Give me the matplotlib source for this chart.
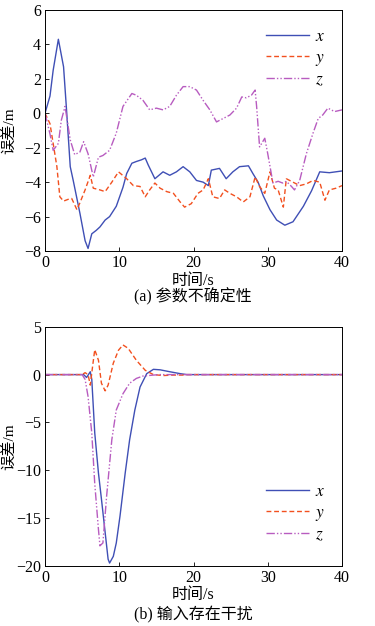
import numpy as np
import matplotlib.pyplot as plt

plt.rcParams['font.family'] = ['Liberation Serif', 'Noto Sans CJK SC']
plt.rcParams['mathtext.fontset'] = 'stix'

# (a) 参数不确定性
t_ax = [0, 0.67, 1.1, 1.8, 2.5, 2.9, 3.4, 3.8, 4.7, 5.4, 5.8, 6.3, 6.9, 7.4, 8.1, 8.7, 9.6, 10.5,
        11.0, 11.7, 12.3, 13.0, 13.5, 13.9, 14.8, 15.9, 16.8, 17.7, 18.6, 19.5, 20.4, 21.3, 22.0,
        22.4, 23.5, 24.4, 25.3, 26.2, 27.4, 28.0, 28.7, 29.4, 30.3, 31.2, 32.3, 33.4, 34.8, 35.9,
        37.0, 38.3, 40]
x_a = [0, 1.0, 2.5, 4.3, 2.7, 0.2, -3.1, -3.9, -5.8, -7.4, -7.85, -7.0, -6.8, -6.6, -6.2, -6.0,
       -5.4, -4.3, -3.5, -2.9, -2.8, -2.7, -2.6, -3.0, -3.8, -3.4, -3.6, -3.4, -3.1, -3.4, -3.9,
       -4.0, -4.2, -3.3, -3.2, -3.8, -3.4, -3.1, -3.05, -3.5, -4.0, -4.8, -5.6, -6.2, -6.5, -6.3,
       -5.4, -4.5, -3.4, -3.45, -3.35]

t_ay = [0, 0.67, 1.1, 1.6, 2.0, 2.5, 3.1, 3.6, 4.3, 4.7, 5.4, 6.1, 6.5, 7.4, 8.1, 9.0, 9.9, 11.0,
        11.9, 12.8, 13.5, 14.1, 14.8, 15.5, 16.4, 17.3, 18.2, 18.8, 19.7, 20.6, 21.3, 22.0, 22.6,
        23.5, 24.2, 24.9, 25.8, 26.7, 27.6, 28.3, 28.9, 29.6, 30.3, 30.9, 31.4, 32.1, 32.5, 33.4,
        34.3, 35.2, 36.1, 37.0, 37.7, 38.3, 39.2, 40]
y_a = [0, -0.6, -1.75, -3.1, -4.85, -5.1, -5.0, -4.95, -5.6, -5.2, -4.45, -3.6, -4.35, -4.45,
       -4.55, -4.0, -3.4, -3.8, -4.2, -4.25, -4.85, -4.45, -4.05, -4.35, -4.55, -4.65, -5.15,
       -5.45, -5.25, -4.65, -4.45, -3.8, -4.85, -4.95, -4.45, -4.65, -4.85, -5.15, -4.85, -3.7,
       -4.25, -4.65, -3.4, -4.35, -4.45, -5.45, -3.8, -4.0, -4.2, -4.1, -3.9, -4.0, -5.05, -4.45,
       -4.35, -4.2]

t_az = [0, 0.67, 1.1, 1.8, 2.2, 2.7, 3.4, 4.0, 4.7, 5.2, 5.8, 6.5, 7.2, 7.8, 8.7, 9.6, 10.5, 11.7,
        12.3, 13.2, 14.1, 15.0, 15.9, 16.8, 17.7, 18.6, 19.5, 20.4, 21.3, 22.2, 23.1, 24.0, 24.9,
        25.8, 26.5, 27.1, 27.8, 28.3, 28.5, 28.9, 29.6, 30.0, 30.7, 31.4, 32.0, 32.5, 33.2, 33.6,
        34.3, 35.2, 36.1, 36.8, 37.4, 38.1, 39.0, 40]
z_a = [0, -1.2, -2.15, -1.75, -0.4, 0.4, -1.55, -2.4, -2.25, -1.65, -2.35, -3.7, -2.55, -2.45,
       -2.15, -1.15, 0.4, 1.15, 1.05, 0.75, 0.2, 0.3, 0.2, 0.4, 1.05, 1.55, 1.55, 1.35, 0.75, 0.2,
       -0.5, -0.3, -0.1, 0.3, 0.95, 0.9, 1.05, 1.35, 0.4, -1.95, -1.45, -2.35, -4.05, -3.95, -4.05,
       -3.95, -4.25, -4.45, -3.9, -2.35, -1.15, -0.3, -0.1, 0.3, 0.1, 0.2]

# (b) 输入存在干扰
t_bx = [0, 5.0, 5.2, 5.6, 6.1, 6.3, 6.7, 7.2, 7.6, 8.1, 8.5, 8.7, 9.2, 9.6, 10.1, 10.8, 11.4,
        12.1, 12.8, 13.7, 14.6, 15.5, 16.8, 18.2, 19.1, 40]
x_b = [0, 0, 0, -0.3, 0.3, -0.5, -6.1, -10.3, -13.0, -16.5, -19.3, -19.7, -19.0, -17.6, -14.8,
       -10.3, -6.8, -3.7, -1.3, 0.1, 0.55, 0.5, 0.3, 0.1, 0, 0]

t_by = [0, 5.0, 5.4, 5.8, 6.1, 6.4, 6.7, 7.2, 7.6, 8.1, 8.5, 9.2, 9.9, 10.5, 11.2, 12.3, 13.5,
        14.6, 15.9, 17.3, 18.6, 19.0, 40]
y_b = [0, 0, 0.2, 0, -1.1, 0.8, 2.6, 1.5, -0.9, -1.7, -1.1, 1.2, 2.55, 3.1, 2.75, 1.5, 0.45, 0,
       -0.1, -0.05, -0.05, 0, 0]

t_bz = [0, 5.0, 5.4, 5.8, 6.3, 6.7, 7.2, 7.4, 7.8, 8.3, 9.0, 9.6, 10.5, 11.4, 12.3, 13.2, 14.6,
        15.5, 40]
z_b = [0, 0, -0.5, -2.3, -6.1, -11.4, -16.2, -17.9, -17.6, -12.7, -6.8, -3.7, -2.0, -0.9, -0.4,
       -0.15, -0.05, 0, 0]

c_x = '#3f4fb5'
c_y = '#f2501f'
c_z = '#b85cc0'
fs = 11.5

fig = plt.figure(figsize=(3.75, 6.26), dpi=100)
ax1 = fig.add_axes([0.12, 0.599, 0.792, 0.385])
ax2 = fig.add_axes([0.12, 0.096, 0.792, 0.382])

for ax, (tx, xs, ty, ys, tz, zs) in [(ax1, (t_ax, x_a, t_ay, y_a, t_az, z_a)),
                                      (ax2, (t_bx, x_b, t_by, y_b, t_bz, z_b))]:
    ax.plot(tx, xs, color=c_x, lw=1.0, ls='-', label=r'$x$')
    ax.plot(ty, ys, color=c_y, lw=1.0, ls=(0, (3.5, 2)), label=r'$y$')
    ax.plot(tz, zs, color=c_z, lw=1.0, ls=(0, (6, 1.5, 1, 1.5, 1, 1.5)), label=r'$z$')
    ax.set_xlim(0, 40)
    ax.set_xticks([0, 10, 20, 30, 40])
    ax.tick_params(direction='in', labelsize=fs, length=3, width=0.6, pad=3)
    for s in ax.spines.values():
        s.set_linewidth(0.7)
    ax.set_xlabel('时间/s', fontsize=fs, labelpad=1)
    ax.set_ylabel('误差/m', fontsize=fs - 0.5)
    ax.yaxis.set_label_coords(-0.098, 0.5)

ax1.set_ylim(-8, 6)
ax1.set_yticks([-8, -6, -4, -2, 0, 2, 4, 6])
ax2.set_ylim(-20, 5)
ax2.set_yticks([-20, -15, -10, -5, 0, 5])

ax1.legend(loc='upper right', bbox_to_anchor=(0.995, 0.985), frameon=False, fontsize=fs + 1,
           handlelength=2.5, handletextpad=0.3, labelspacing=0.25)
ax2.legend(loc='lower right', bbox_to_anchor=(0.995, 0.03), frameon=False, fontsize=fs + 1,
           handlelength=2.5, handletextpad=0.3, labelspacing=0.25)

fig.text(0.515, 1 - 297 / 626, '(a) 参数不确定性', ha='center', va='center', fontsize=fs)
fig.text(0.515, 1 - 615 / 626, '(b) 输入存在干扰', ha='center', va='center', fontsize=fs)

fig.savefig('out.png', dpi=100)
